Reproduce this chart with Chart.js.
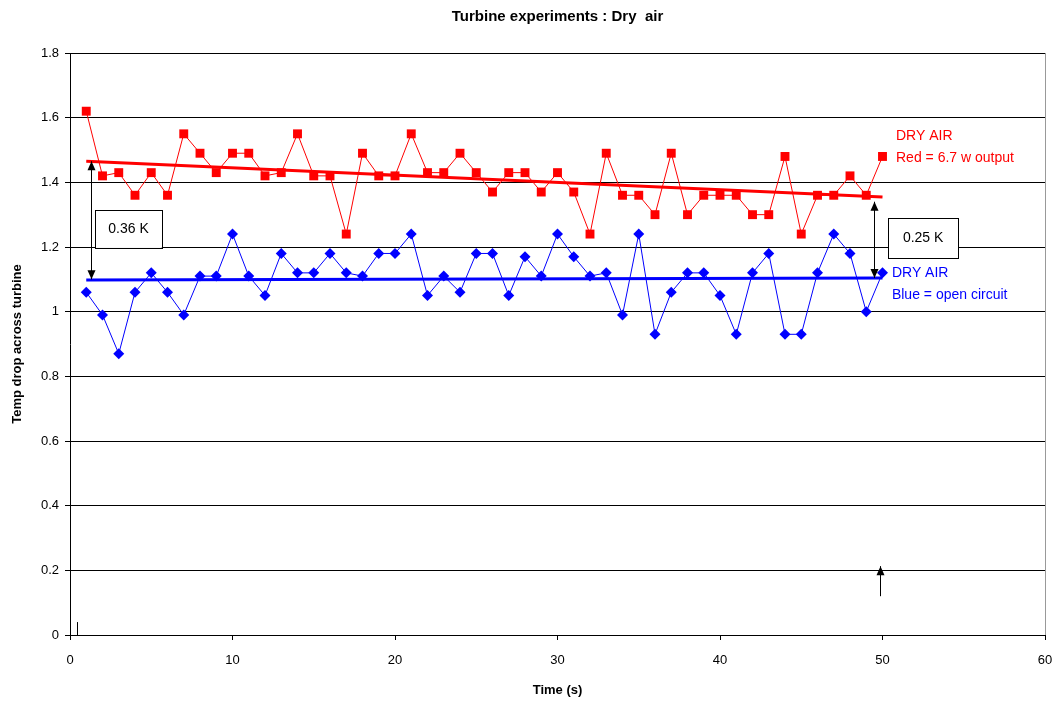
<!DOCTYPE html>
<html lang="en">
    <head>
        <meta charset="UTF-8" />
        <title>Turbine experiments : Dry air</title>
        <script src="https://cdn.jsdelivr.net/npm/chart.js@4.4.1/dist/chart.umd.min.js"></script>
        <style>
            body { margin: 0; background: #fff; }
        </style>
    </head>
    <body>
        <canvas id="mychart" width="1056" height="707"></canvas>
        <script>
            const timeSec = [1, 2, 3, 4, 5, 6, 7, 8, 9, 10, 11, 12, 13, 14, 15, 16, 17, 18, 19, 20,
                             21, 22, 23, 24, 25, 26, 27, 28, 29, 30, 31, 32, 33, 34, 35, 36, 37, 38, 39, 40,
                             41, 42, 43, 44, 45, 46, 47, 48, 49, 50];

            const redOutput = [1.62, 1.42, 1.43, 1.36, 1.43, 1.36, 1.55, 1.49, 1.43, 1.49,
                               1.49, 1.42, 1.43, 1.55, 1.42, 1.42, 1.24, 1.49, 1.42, 1.42,
                               1.55, 1.43, 1.43, 1.49, 1.43, 1.37, 1.43, 1.43, 1.37, 1.43,
                               1.37, 1.24, 1.49, 1.36, 1.36, 1.30, 1.49, 1.30, 1.36, 1.36,
                               1.36, 1.30, 1.30, 1.48, 1.24, 1.36, 1.36, 1.42, 1.36, 1.48];

            const blueOpen = [1.06, 0.99, 0.87, 1.06, 1.12, 1.06, 0.99, 1.11, 1.11, 1.24,
                              1.11, 1.05, 1.18, 1.12, 1.12, 1.18, 1.12, 1.11, 1.18, 1.18,
                              1.24, 1.05, 1.11, 1.06, 1.18, 1.18, 1.05, 1.17, 1.11, 1.24,
                              1.17, 1.11, 1.12, 0.99, 1.24, 0.93, 1.06, 1.12, 1.12, 1.05,
                              0.93, 1.12, 1.18, 0.93, 0.93, 1.12, 1.24, 1.18, 1.00, 1.12];

            // trend lines (start / end)
            const trendX = [1, 50];
            const redTrend = [1.465, 1.355];
            const blueTrend = [1.098, 1.104];

            const yTicks = [0, 0.2, 0.4, 0.6, 0.8, 1, 1.2, 1.4, 1.6, 1.8];
            const xTicks = [0, 10, 20, 30, 40, 50, 60];

            const toPts = (xs, ys) => xs.map((x, i) => ({ x: x, y: ys[i] }));

            // annotations drawn on top, in data units
            const notes = {
                arrows: [
                    { x: 1.3, y1: 1.465, y2: 1.10, both: true },
                    { x: 49.5, y1: 1.34, y2: 1.104, both: true },
                    { x: 49.85, y1: 0.12, y2: 0.213, both: false }
                ],
                boxes: [
                    { text: "0.36 K", x1: 1.55, x2: 5.65, y1: 1.315, y2: 1.197 },
                    { text: "0.25 K", x1: 50.35, x2: 54.65, y1: 1.29, y2: 1.166 }
                ],
                labels: [
                    { text: "DRY AIR", x: 50.83, y: 1.543, color: "#ff0000" },
                    { text: "Red = 6.7 w output", x: 50.83, y: 1.475, color: "#ff0000" },
                    { text: "DRY AIR", x: 50.58, y: 1.12, color: "#0000ff" },
                    { text: "Blue = open circuit", x: 50.58, y: 1.052, color: "#0000ff" }
                ]
            };

            function arrowHead(c, x, y, dir) {
                c.beginPath();
                c.moveTo(x, y);
                c.lineTo(x - 4, y - dir * 9);
                c.lineTo(x + 4, y - dir * 9);
                c.closePath();
                c.fill();
            }

            const notesPlugin = {
                id: 'notes',
                afterDatasetsDraw(chart) {
                    const c = chart.ctx;
                    const xs = chart.scales.x, ys = chart.scales.y;
                    const a = chart.chartArea;
                    c.save();

                    // right frame line
                    c.strokeStyle = '#999';
                    c.lineWidth = 1;
                    c.beginPath();
                    c.moveTo(a.right + 0.5, a.top);
                    c.lineTo(a.right + 0.5, a.bottom);
                    c.stroke();

                    // little mark near origin
                    c.strokeStyle = '#000';
                    c.beginPath();
                    c.moveTo(Math.round(xs.getPixelForValue(0.43)) + 0.5, ys.getPixelForValue(0));
                    c.lineTo(Math.round(xs.getPixelForValue(0.43)) + 0.5, ys.getPixelForValue(0.04));
                    c.stroke();

                    c.fillStyle = '#000';
                    notes.arrows.forEach(ar => {
                        const px = Math.round(xs.getPixelForValue(ar.x)) + 0.5;
                        const p1 = ys.getPixelForValue(ar.y1);
                        const p2 = ys.getPixelForValue(ar.y2);
                        c.beginPath();
                        c.moveTo(px, p1);
                        c.lineTo(px, p2);
                        c.stroke();
                        const dir = p2 > p1 ? 1 : -1;
                        arrowHead(c, px, p2, dir);
                        if (ar.both) arrowHead(c, px, p1, -dir);
                    });

                    c.font = '14px "Liberation Sans", Arial, sans-serif';
                    notes.boxes.forEach(b => {
                        const l = xs.getPixelForValue(b.x1), r = xs.getPixelForValue(b.x2);
                        const t = ys.getPixelForValue(b.y1), btm = ys.getPixelForValue(b.y2);
                        c.fillStyle = '#fff';
                        c.fillRect(l, t, r - l, btm - t);
                        c.strokeStyle = '#000';
                        c.strokeRect(Math.round(l) + 0.5, Math.round(t) + 0.5, Math.round(r - l), Math.round(btm - t));
                        c.fillStyle = '#000';
                        c.textAlign = 'center';
                        c.textBaseline = 'middle';
                        c.fillText(b.text, (l + r) / 2, (t + btm) / 2);
                    });

                    c.textAlign = 'left';
                    c.textBaseline = 'middle';
                    notes.labels.forEach(lb => {
                        c.fillStyle = lb.color;
                        c.fillText(lb.text, xs.getPixelForValue(lb.x), ys.getPixelForValue(lb.y));
                    });
                    c.restore();
                }
            };

            const ctx = document.getElementById("mychart").getContext("2d");
            Chart.defaults.font.family = '"Liberation Sans", Arial, sans-serif';
            Chart.defaults.color = '#000';

            const myChart = new Chart(ctx, {
                type: 'line',
                data: {
                    datasets: [
                        {
                            label: 'Red = 6.7 w output',
                            data: toPts(timeSec, redOutput),
                            borderColor: '#ff0000',
                            backgroundColor: '#ff0000',
                            borderWidth: 1,
                            pointStyle: 'rect',
                            pointRadius: 6.3,
                            pointBorderWidth: 0,
                            order: 2
                        },
                        {
                            label: 'Blue = open circuit',
                            data: toPts(timeSec, blueOpen),
                            borderColor: '#0000ff',
                            backgroundColor: '#0000ff',
                            borderWidth: 1,
                            pointStyle: 'rectRot',
                            pointRadius: 5.5,
                            pointBorderWidth: 0,
                            order: 2
                        },
                        {
                            label: 'Red trend',
                            data: toPts(trendX, redTrend),
                            borderColor: '#ff0000',
                            borderWidth: 3,
                            pointRadius: 0,
                            order: 1
                        },
                        {
                            label: 'Blue trend',
                            data: toPts(trendX, blueTrend),
                            borderColor: '#0000ff',
                            borderWidth: 3,
                            pointRadius: 0,
                            order: 1
                        }
                    ]
                },
                options: {
                    responsive: false,
                    animation: false,
                    layout: { padding: { left: 0, right: 11, top: 0, bottom: 0 } },
                    plugins: {
                        legend: { display: false },
                        tooltip: { enabled: false },
                        title: {
                            display: true,
                            text: 'Turbine experiments : Dry  air',
                            fullSize: false,
                            font: { size: 15, weight: 'bold' },
                            color: '#000',
                            padding: { top: 8, bottom: 27 }
                        }
                    },
                    scales: {
                        x: {
                            type: 'linear',
                            min: 0,
                            max: 60,
                            afterBuildTicks: s => { s.ticks = xTicks.map(v => ({ value: v })); },
                            afterFit: s => { s.height = 72; s.paddingLeft = 0; s.paddingRight = 0; },
                            grid: { drawOnChartArea: false, color: '#000', tickLength: 5 },
                            border: { color: '#000', width: 1 },
                            ticks: { font: { size: 13 }, color: '#000', padding: 13, callback: v => String(v) },
                            title: {
                                display: true,
                                text: 'Time (s)',
                                font: { size: 13, weight: 'bold' },
                                padding: { top: 10, bottom: 9 }
                            }
                        },
                        y: {
                            min: 0,
                            max: 1.8,
                            afterBuildTicks: s => { s.ticks = yTicks.map(v => ({ value: v })); },
                            afterFit: s => { s.width = 70; },
                            grid: { color: '#000', lineWidth: 1, tickLength: 5 },
                            border: { color: '#000', width: 1 },
                            ticks: { font: { size: 13 }, color: '#000', padding: 6, callback: v => String(v) },
                            title: {
                                display: true,
                                text: 'Temp drop across turbine',
                                font: { size: 13, weight: 'bold' },
                                padding: { top: 10, bottom: 4 }
                            }
                        }
                    }
                },
                plugins: [notesPlugin]
            });
        </script>
    </body>
</html>
